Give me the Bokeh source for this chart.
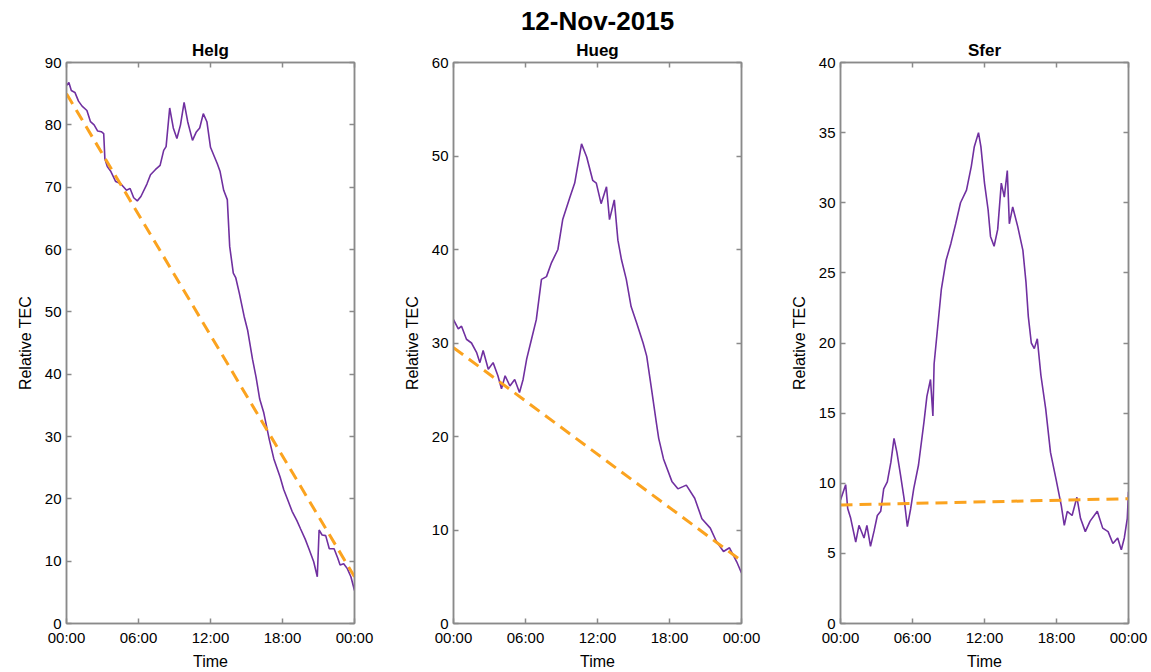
from bokeh.plotting import figure
from bokeh.models import Range1d, FixedTicker, LinearAxis, Title
from bokeh.layouts import row
from bokeh.embed import file_html
from bokeh.resources import INLINE

# ---------------- data (hours after 00:00, relative TEC) ----------------
main_title = "12-Nov-2015"
x_ticks = [0, 6, 12, 18, 24]
x_tick_labels = ["00:00", "06:00", "12:00", "18:00", "00:00"]

helg_t = [0.0, 0.2, 0.4, 0.7, 1.0, 1.3, 1.7, 2.0, 2.3, 2.6, 2.9, 3.1, 3.2, 3.4, 3.7,
          4.1, 4.5, 5.0, 5.3, 5.6, 5.9, 6.2, 6.7, 7.0, 7.4, 7.8, 8.1, 8.3, 8.6, 8.9,
          9.2, 9.5, 9.8, 10.1, 10.5, 10.8, 11.1, 11.4, 11.7, 12.0, 12.3, 12.56, 12.8,
          13.1, 13.4, 13.6, 13.9, 14.1, 14.4, 14.8, 15.1, 15.5, 15.8, 16.1, 16.44,
          16.9, 17.28, 17.8, 18.1, 18.4, 18.8, 19.2, 19.5, 19.9, 20.2, 20.6, 20.9,
          21.05, 21.3, 21.6, 21.9, 22.3, 22.6, 22.8, 23.1, 23.4, 23.7, 24.0]
helg_v = [86.3, 86.8, 85.5, 85.2, 83.8, 83.0, 82.3, 80.5, 80.0, 79.0, 78.9, 78.6, 74.5, 73.3, 72.5,
          70.9, 70.6, 69.5, 69.8, 68.3, 67.8, 68.5, 70.5, 72.0, 72.8, 73.5, 75.9, 76.5, 82.7, 79.5,
          77.8, 80.0, 83.6, 80.5, 77.5, 78.8, 79.5, 81.8, 80.5, 76.4, 75.0, 73.8, 72.5,
          69.5, 68.0, 60.5, 56.2, 55.5, 53.0, 49.3, 47.0, 42.4, 39.5, 36.0, 33.8,
          29.5, 26.4, 23.5, 21.5, 20.0, 18.0, 16.5, 15.2, 13.5, 12.0, 9.9, 7.5,
          15.0, 14.2, 14.1, 12.0, 12.0, 10.5, 9.4, 9.6, 8.8, 7.5, 5.3]
helg_trend_t = [0, 24]
helg_trend_v = [85.0, 7.5]

hueg_t = [0.0, 0.4, 0.67, 1.08, 1.5, 1.92, 2.2, 2.47, 2.9, 3.3, 3.7, 4.0, 4.3, 4.7, 5.1,
          5.5, 5.8, 6.1, 6.5, 6.9, 7.33, 7.75, 8.17, 8.7, 9.1, 9.7, 10.1, 10.67, 11.1,
          11.6, 11.9, 12.3, 12.75, 13.0, 13.4, 13.7, 14.0, 14.4, 14.8, 15.25, 15.8, 16.1,
          16.5, 16.9, 17.1, 17.5, 18.2, 18.7, 19.4, 20.1, 20.7, 21.4, 21.9, 22.5, 23.0,
          23.6, 24.0]
hueg_v = [32.5, 31.5, 31.8, 30.4, 30.0, 29.0, 27.9, 29.2, 27.2, 27.9, 26.5, 25.1, 26.5, 25.4, 26.1,
          24.7, 26.1, 28.3, 30.4, 32.5, 36.8, 37.1, 38.6, 40.0, 43.2, 45.6, 47.1, 51.3, 49.9,
          47.4, 47.1, 44.9, 46.7, 43.2, 45.3, 41.0, 38.9, 36.8, 33.9, 32.2, 30.0, 28.6,
          25.1, 21.5, 19.8, 17.6, 15.2, 14.4, 14.8, 13.4, 11.2, 10.2, 8.8, 7.7, 8.1,
          6.6, 5.4]
hueg_trend_t = [0, 24]
hueg_trend_v = [29.5, 6.7]

sfer_t = [0.0, 0.43, 0.6, 0.85, 1.27, 1.54, 1.96, 2.2, 2.5, 2.8, 3.07, 3.35, 3.6, 3.9, 4.2,
          4.46, 4.7, 5.0, 5.3, 5.57, 5.85, 6.1, 6.5, 6.96, 7.2, 7.5, 7.7, 7.8, 8.4, 8.8,
          9.2, 9.6, 10.0, 10.5, 10.9, 11.15, 11.5, 11.7, 12.0, 12.3, 12.5, 12.8, 13.1,
          13.4, 13.65, 13.9, 14.07, 14.35, 14.77, 15.2, 15.46, 15.65, 15.9, 16.15, 16.4,
          16.7, 17.1, 17.5, 17.96, 18.4, 18.65, 18.9, 19.3, 19.7, 20.0, 20.4, 20.8, 21.4,
          21.85, 22.3, 22.7, 23.1, 23.4, 23.65, 23.9, 24.0]
sfer_v = [8.8, 9.9, 8.2, 7.5, 5.8, 7.0, 6.1, 7.0, 5.5, 6.6, 7.7, 8.0, 9.6, 10.1, 11.5,
          13.2, 12.2, 10.6, 8.9, 6.9, 8.2, 9.6, 11.3, 14.4, 16.2, 17.4, 14.8, 18.5, 23.8, 25.9,
          27.1, 28.5, 30.0, 30.9, 32.6, 34.0, 35.0, 34.0, 31.4, 29.5, 27.6, 26.9, 28.1,
          31.4, 30.4, 32.3, 28.5, 29.7, 28.3, 26.6, 24.3, 21.9, 20.0, 19.6, 20.3,
          17.7, 15.3, 12.2, 10.3, 8.4, 7.0, 8.0, 7.7, 9.0, 7.5, 6.55, 7.3, 8.0,
          6.8, 6.55, 5.7, 6.1, 5.25, 6.1, 7.5, 9.4]
sfer_trend_t = [0, 24]
sfer_trend_v = [8.45, 8.9]

panels = [
    ("Helg", helg_t, helg_v, helg_trend_t, helg_trend_v, 90, list(range(0, 91, 10))),
    ("Hueg", hueg_t, hueg_v, hueg_trend_t, hueg_trend_v, 60, list(range(0, 61, 10))),
    ("Sfer", sfer_t, sfer_v, sfer_trend_t, sfer_trend_v, 40, list(range(0, 41, 5))),
]

FONT = "Liberation Sans"
GRAY = "#8a8a8a"
PURPLE = "#7030A0"
ORANGE = "#FBA31F"


def style_frame_axis(ax):
    ax.axis_line_color = GRAY
    ax.axis_line_width = 1.5
    ax.major_tick_line_color = GRAY
    ax.major_tick_line_width = 1.5
    ax.major_tick_in = 5
    ax.major_tick_out = 0
    ax.minor_tick_line_color = None


def make_panel(name, t, v, tt, tv, ymax, yticks, with_main):
    p = figure(width=387, height=672, output_backend="svg", toolbar_location=None,
               x_range=Range1d(0, 24), y_range=Range1d(0, ymax),
               min_border_left=66, min_border_right=33, min_border_top=62,
               min_border_bottom=47, title=None)
    p.background_fill_color = "white"
    p.border_fill_color = "white"
    p.outline_line_color = GRAY
    p.outline_line_width = 1.5
    p.grid.visible = False

    xa = p.below[0]
    ya = p.left[0]

    # unlabeled mirror axes (closest to the frame)
    top = LinearAxis(ticker=FixedTicker(ticks=x_ticks),
                     major_label_overrides={k: "" for k in x_ticks})
    right = LinearAxis(ticker=FixedTicker(ticks=yticks),
                       major_label_overrides={k: "" for k in yticks})
    for ax in (top, right):
        style_frame_axis(ax)
        ax.major_label_text_font_size = "1px"
        ax.major_label_standoff = 0
    p.add_layout(top, "above")
    p.add_layout(right, "right")

    p.add_layout(Title(text=name, align="center", text_font=FONT, text_font_size="17px",
                       text_font_style="bold", text_color="black", standoff=6), "above")
    if with_main:
        p.add_layout(Title(text=main_title, align="center", text_font=FONT,
                           text_font_size="26px", text_font_style="bold",
                           text_color="black", standoff=0), "above")

    xa.ticker = FixedTicker(ticks=x_ticks)
    xa.major_label_overrides = {k: s for k, s in zip(x_ticks, x_tick_labels)}
    xa.axis_label = "Time"
    ya.ticker = FixedTicker(ticks=yticks)
    ya.axis_label = "Relative TEC"
    for ax in (xa, ya):
        style_frame_axis(ax)
        ax.major_label_text_font = FONT
        ax.major_label_text_font_size = "15px"
        ax.major_label_text_color = "black"
        ax.axis_label_text_font = FONT
        ax.axis_label_text_font_size = "16px"
        ax.axis_label_text_font_style = "normal"
        ax.axis_label_text_color = "black"
        ax.major_label_standoff = 5
        ax.axis_label_standoff = 4
    ya.axis_label_standoff = 8

    p.line(t, v, line_color=PURPLE, line_width=1.6)
    p.line(tt, tv, line_color=ORANGE, line_width=3, line_dash="12 7")
    return p


figs = [make_panel(*pn, with_main=(i == 1)) for i, pn in enumerate(panels)]
layout = row(*figs)
open("out.html", "w").write(file_html(layout, INLINE))
